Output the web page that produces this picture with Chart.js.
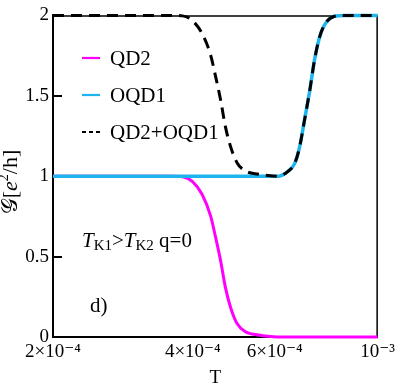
<!DOCTYPE html>
<html><head><meta charset="utf-8">
<script src="https://cdn.jsdelivr.net/npm/chart.js@4/dist/chart.umd.min.js"></script>
<style>html,body{margin:0;padding:0;background:#fff}</style>
</head><body>
<canvas id="c" width="399" height="389" style="width:399px;height:389px;display:block"></canvas>
<script>
// ---- data ----
const temperatures = [2.0e-4, 3.0e-4, 3.6e-4, 3.8e-4, 3.99e-4, 4.19e-4, 4.37e-4, 4.48e-4, 4.59e-4, 4.70e-4, 4.82e-4, 4.98e-4, 5.19e-4, 5.54e-4, 5.8e-4, 6.1e-4, 6.41e-4, 6.63e-4, 6.79e-4, 6.96e-4, 7.14e-4, 7.31e-4, 7.49e-4, 7.68e-4, 8.07e-4, 8.5e-4, 1.0e-3];
const qd2   = [1, 1, 1, 0.997, 0.968, 0.886, 0.752, 0.618, 0.475, 0.31, 0.187, 0.084, 0.033, 0.012, 0.004, 0, 0, 0, 0, 0, 0, 0, 0, 0, 0, 0, 0];
const oqd1  = [1, 1, 1, 1, 1, 1, 1, 1, 1, 1, 1, 1, 1, 1, 1, 1, 1.03, 1.08, 1.18, 1.35, 1.53, 1.72, 1.86, 1.94, 1.995, 2, 2];
const total = [2, 2, 2, 1.997, 1.968, 1.886, 1.752, 1.618, 1.475, 1.31, 1.187, 1.084, 1.033, 1.012, 1.004, 1, 1.03, 1.08, 1.18, 1.35, 1.53, 1.72, 1.86, 1.94, 1.995, 2, 2];
const seriesNames = ['QD2', 'OQD1', 'QD2+OQD1'];
const xTicks = [2e-4, 4e-4, 6e-4, 1e-3];
const xTickLabels = ['2×10⁻⁴', '4×10⁻⁴', '6×10⁻⁴', '10⁻³'];
const yTicks = [0, 0.5, 1, 1.5, 2];
const yTickLabels = ['0', '0.5', '1', '1.5', '2'];
const xTitle = 'T';
const panelLabel = 'd)';

const SERIF = "'Liberation Serif', 'Times New Roman', Tinos, 'DejaVu Serif', serif";

function pts(ys) { return temperatures.map((t, i) => ({ x: t, y: ys[i] })); }

const decor = {
  id: 'decor',
  beforeDatasetsDraw(chart) {
    const { ctx, chartArea: a } = chart;
    ctx.save();
    ctx.strokeStyle = '#000';
    ctx.lineWidth = 1.5;
    ctx.beginPath();
    ctx.moveTo(a.left, a.top + 0.5); ctx.lineTo(a.right, a.top + 0.5);
    ctx.moveTo(a.right - 0.5, a.top); ctx.lineTo(a.right - 0.5, a.bottom);
    ctx.stroke();
    const ys = chart.scales.y;
    ctx.lineWidth = 2;
    [0.5, 1, 1.5].forEach(v => {
      const py = Math.round(ys.getPixelForValue(v));
      ctx.beginPath(); ctx.moveTo(a.left, py); ctx.lineTo(a.left + 9, py); ctx.stroke();
    });
    ctx.restore();
  },
  afterDraw(chart) {
    const { ctx } = chart;
    ctx.save();
    const ds = chart.data.datasets;
    const legY = [58, 95, 132];
    ctx.textBaseline = 'middle';
    ctx.fillStyle = '#000';
    ds.forEach((d, i) => {
      ctx.strokeStyle = d.borderColor;
      ctx.lineWidth = 2.2;
      ctx.setLineDash(d.borderDash && d.borderDash.length ? [4, 3] : []);
      ctx.beginPath(); ctx.moveTo(82, legY[i]); ctx.lineTo(100, legY[i]); ctx.stroke();
      ctx.setLineDash([]);
      ctx.font = '21px ' + SERIF;
      ctx.fillText(d.label, 110, legY[i] + 1);
    });
    ctx.textBaseline = 'alphabetic';
    let x = 82; const base = 247;
    const big = '21px ' + SERIF, ital = 'italic 21px ' + SERIF, small = '15px ' + SERIF;
    const put = (t, f, dy) => { ctx.font = f; ctx.fillText(t, x, base + (dy || 0)); x += ctx.measureText(t).width; };
    put('T', ital); put('K1', small, 3); put('>', big); put('T', ital); put('K2', small, 3); put(' q=0', big);
    ctx.font = '21px ' + SERIF;
    ctx.fillText(panelLabel, 90, 312);
    ctx.translate(17, 182);
    ctx.rotate(-Math.PI / 2);
    const parts = [['𝒢', '22px ' + SERIF, 0], ['[', '22px ' + SERIF, 0], ['e', 'italic 22px ' + SERIF, 0], ['2', '14px ' + SERIF, -9], ['/h]', '22px ' + SERIF, 0]];
    let w = 0; parts.forEach(p => { ctx.font = p[1]; w += ctx.measureText(p[0]).width; });
    let xx = -w / 2;
    parts.forEach(p => { ctx.font = p[1]; ctx.fillText(p[0], xx, p[2]); xx += ctx.measureText(p[0]).width; });
    ctx.restore();
  }
};

function build() {
  new Chart(document.getElementById('c'), {
    type: 'line',
    data: {
      datasets: [
        { label: seriesNames[0], data: pts(qd2), borderColor: '#ff00ff', borderWidth: 3, order: 2 },
        { label: seriesNames[1], data: pts(oqd1), borderColor: '#1eb4ee', borderWidth: 3.5, order: 1 },
        { label: seriesNames[2], data: pts(total), borderColor: '#000000', borderWidth: 3, borderDash: [11, 7], order: 0 }
      ]
    },
    options: {
      responsive: false,
      devicePixelRatio: 1,
      animation: false,
      font: { family: SERIF },
      layout: { padding: { top: 12, right: 19, left: 0, bottom: 0 } },
      elements: { point: { radius: 0 }, line: { cubicInterpolationMode: 'monotone', fill: false } },
      datasets: { line: { clip: false } },
      plugins: { legend: { display: false }, tooltip: { enabled: false } },
      scales: {
        x: {
          type: 'logarithmic', min: 2e-4, max: 1e-3,
          afterBuildTicks: s => { s.ticks = xTicks.map(v => ({ value: v })); },
          afterFit: s => { s.height = 52; },
          grid: { display: false, drawTicks: false },
          border: { display: true, color: '#000', width: 2 },
          ticks: {
            autoSkip: false, maxRotation: 0, padding: 4, color: '#000',
            font: { family: SERIF, size: 19 },
            callback: (v) => { const i = xTicks.findIndex(t => Math.abs(t - v) < 1e-9); return i >= 0 ? xTickLabels[i] : ''; }
          },
          title: { display: true, text: xTitle, color: '#000', font: { family: SERIF, size: 19 }, padding: { top: 6, bottom: 0 } }
        },
        y: {
          type: 'linear', min: 0, max: 2,
          afterBuildTicks: s => { s.ticks = yTicks.map(v => ({ value: v })); },
          afterFit: s => { s.width = 53; },
          grid: { display: false, drawTicks: false },
          border: { display: true, color: '#000', width: 2 },
          ticks: {
            padding: 4, color: '#000',
            font: { family: SERIF, size: 19 },
            callback: (v) => { const i = yTicks.indexOf(v); return i >= 0 ? yTickLabels[i] : ''; }
          }
        }
      }
    },
    plugins: [decor]
  });
}
const loads = ['19px "Liberation Serif"', 'italic 19px "Liberation Serif"'].map(f => document.fonts ? document.fonts.load(f).catch(() => null) : null);
Promise.all(loads).then(build, build);
</script>
</body></html>
